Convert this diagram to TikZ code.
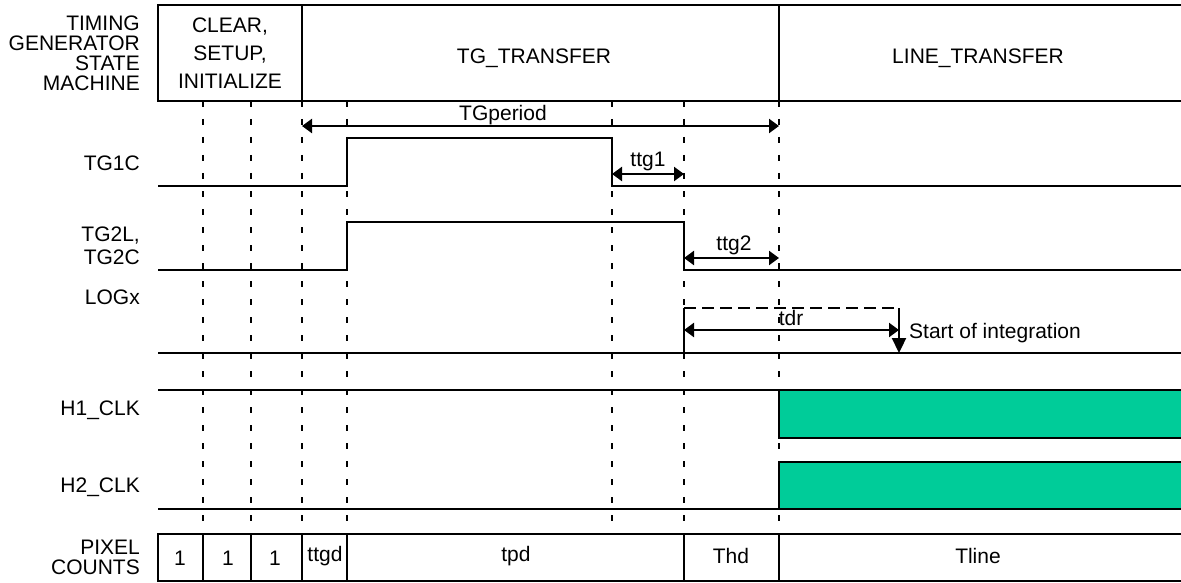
\documentclass[tikz,border=0pt]{standalone}
\usepackage{fontspec}
\setmainfont{Liberation Sans}
\usetikzlibrary{arrows.meta}
\definecolor{clkgreen}{RGB}{0,204,153}
\tikzset{
	lbl/.style={font=\fontsize{21}{20}\selectfont,inner sep=0pt,align=right,anchor=east},
	txt/.style={font=\fontsize{21}{20}\selectfont,inner sep=0pt,align=center},
	sig/.style={line width=2.3pt},
	frame/.style={line width=2.7pt},
	guide/.style={line width=1.7pt,dash pattern=on 6pt off 12pt},
	dim/.style={line width=2.3pt,<->},
	clk/.style={line width=2.3pt,fill=clkgreen}
}

\begin{document}
\begin{tikzpicture}[line join=miter,x=1pt,y=-1pt,>={Triangle[length=10pt,width=14pt]}]
		\useasboundingbox (0,0) rectangle (1181,583);
		\clip (0,0) rectangle (1181,583);
		\foreach \x in {203,251,302,347,612,684,779}
			\draw[guide] (\x,101) -- (\x,534);
		\draw[frame] (158,5) rectangle (1190,101);
		\draw[frame] (302,5) -- (302,101);
		\draw[frame] (779,5) -- (779,101);
		\draw[sig] (158,186) -- (347,186) -- (347,138) -- (612,138) -- (612,186) -- (1190,186);
		\draw[sig] (158,270) -- (347,270) -- (347,222) -- (684,222) -- (684,270) -- (1190,270);
		\draw[sig] (158,353) -- (1190,353);
		\draw[sig] (684,353) -- (684,308);
		\draw[sig,dash pattern=on 12pt off 6pt] (684,308) -- (899,308);
		\draw[sig,-{Triangle[length=15pt,width=14pt]}] (899,308) -- (899,353);
		\draw[sig] (158,390) -- (1190,390);
		\draw[clk] (779,390) rectangle (1190,438);
		\draw[clk] (779,462) rectangle (1190,509);
		\draw[sig] (158,509) -- (1190,509);
		\draw[frame] (158,534) rectangle (1190,581);
		\foreach \x in {203,251,302,347,684,779}
			\draw[frame] (\x,534) -- (\x,581);
		\coordinate (p0) at (302,126);
		\coordinate (p1) at (779,126);
		\coordinate (g0) at (612,174);
		\coordinate (g1) at (684,174);
		\coordinate (k0) at (684,258);
		\coordinate (k1) at (779,258);
		\coordinate (r0) at (684,330);
		\coordinate (r1) at (899,330);
		\draw[dim] (p0) -- (p1);
		\draw[dim] (g0) -- (g1);
		\draw[dim] (k0) -- (k1);
		\draw[dim] (r0) -- (r1);
		\node[txt] (tgp) at (503,115) {TGperiod};
		\node[txt] (ttg1) at (648,161) {ttg1};
		\node[txt] (ttg2) at (734,245) {ttg2};
		\node[txt] (tdr) at (791,318) {tdr};
		\node[txt,anchor=west] (soi) at (909,333) {Start of integration};
		\node[lbl] (tgsm) at (140,53) {TIMING\\GENERATOR\\STATE\\MACHINE};
		\node[lbl] (tg1c) at (140,163) {TG1C};
		\node[lbl,font=\fontsize{21}{23}\selectfont] (tg2) at (140,246) {TG2L,\\TG2C};
		\node[lbl] (logx) at (140,297) {LOGx};
		\node[lbl] (h1) at (140,410) {H1\_CLK};
		\node[lbl] (h2) at (140,487) {H2\_CLK};
		\node[lbl] (pix) at (140,557) {PIXEL\\COUNTS};
		\node[txt,font=\fontsize{21}{28}\selectfont] (csi) at (230,53) {CLEAR,\\SETUP,\\INITIALIZE};
		\node[txt] (tgt) at (534,58) {TG\_TRANSFER};
		\node[txt] (lnt) at (978,58) {LINE\_TRANSFER};
		\node[txt] (c1) at (180,558) {1};
		\node[txt] (c2) at (228,558) {1};
		\node[txt] (c3) at (275,558) {1};
		\node[txt] (c4) at (325,556) {ttgd};
		\node[txt] (c5) at (516,556) {tpd};
		\node[txt] (c6) at (731,556) {Thd};
		\node[txt] (c7) at (978,556) {Tline};
	\end{tikzpicture}
\end{document}
